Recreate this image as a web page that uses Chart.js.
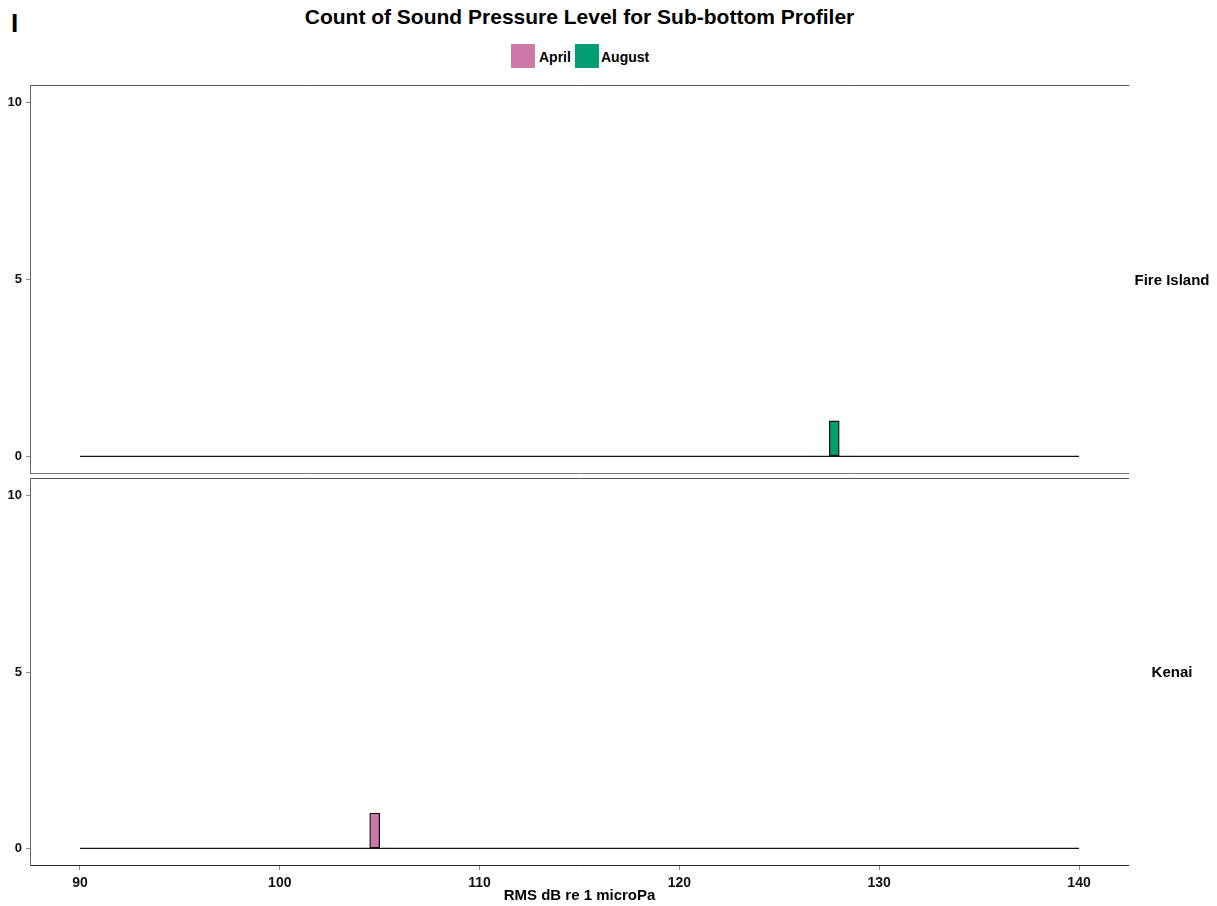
<!DOCTYPE html>
<html>
<head>
<meta charset="utf-8">
<title>Count of Sound Pressure Level for Sub-bottom Profiler</title>
<script src="https://cdn.jsdelivr.net/npm/chart.js@4/dist/chart.umd.min.js"></script>
<style>
    body {
        margin: 0;
        width: 1217px;
        height: 906px;
        background: #ffffff;
        position: relative;
        overflow: hidden;
        font-family: "Liberation Sans", Arial, sans-serif;
        font-weight: bold;
        color: #000;
    }
    .tag {
        position: absolute;
        left: 11px;
        top: 10px;
        font-size: 26px;
        line-height: 26px;
    }
    .title {
        position: absolute;
        left: 30px;
        width: 1099px;
        top: 6px;
        font-size: 21px;
        line-height: 21px;
        text-align: center;
    }
    .legend-box {
        position: absolute;
        top: 44px;
        width: 24px;
        height: 24px;
    }
    .legend-text {
        position: absolute;
        top: 49px;
        font-size: 14px;
        line-height: 16px;
    }
    canvas {
        position: absolute;
        left: 0;
    }
    #topPanel { top: 75px; }
    #bottomPanel { top: 476px; }
</style>
</head>
<body>
<div class="tag">I</div>
<div class="title">Count of Sound Pressure Level for Sub-bottom Profiler</div>
<div id="legend"></div>
<canvas id="topPanel" width="1217" height="401"></canvas>
<canvas id="bottomPanel" width="1217" height="430"></canvas>

<script>
// Data
const panelNames = ['Fire Island', 'Kenai'];
const monthNames = ['April', 'August'];
const monthColors = ['#CC79A7', '#009E73'];

const binWidth = 0.5;
const rangeStart = 90;
const rangeEnd = 140;

// one bin per panel had a count, everything else is zero
const fireIslandBins = [127.5];
const fireIslandCounts = [1];
const fireIslandMonth = 'August';

const kenaiBins = [104.5];
const kenaiCounts = [1];
const kenaiMonth = 'April';

const xTickValues = [90, 100, 110, 120, 130, 140];
const yTickValues = [0, 5, 10];
const xMin = 87.5;
const xMax = 142.5;
const yMin = -0.5;
const yMax = 10.5;

const xTitle = 'RMS dB re 1 microPa';

// Legend (html)
function buildLegend() {
    const legend = document.getElementById('legend');
    const boxLeft = [511, 575];
    const textLeft = [539, 601];
    monthNames.forEach((name, i) => {
        const box = document.createElement('div');
        box.className = 'legend-box';
        box.style.left = boxLeft[i] + 'px';
        box.style.background = monthColors[i];
        legend.appendChild(box);

        const text = document.createElement('div');
        text.className = 'legend-text';
        text.style.left = textLeft[i] + 'px';
        text.textContent = name;
        legend.appendChild(text);
    });
}

// Panel frame + facet strip label
const panelFrame = {
    id: 'panelFrame',
    afterDraw(chart, args, opts) {
        const a = chart.chartArea;
        const ctx = chart.ctx;
        ctx.save();
        ctx.lineWidth = 1;

        ctx.strokeStyle = '#555555';
        ctx.beginPath();
        ctx.moveTo(a.left, Math.round(a.top) + 0.5);
        ctx.lineTo(a.right, Math.round(a.top) + 0.5);
        ctx.stroke();

        ctx.strokeStyle = opts.bottomColor;
        ctx.beginPath();
        ctx.moveTo(a.left, Math.round(a.bottom) - 0.5);
        ctx.lineTo(a.right, Math.round(a.bottom) - 0.5);
        ctx.stroke();

        ctx.strokeStyle = '#666666';
        ctx.beginPath();
        ctx.moveTo(Math.round(a.left) + 0.5, a.top);
        ctx.lineTo(Math.round(a.left) + 0.5, a.bottom);
        ctx.stroke();

        ctx.fillStyle = '#000000';
        ctx.font = 'bold 15px "Liberation Sans", Arial, sans-serif';
        ctx.textAlign = 'center';
        ctx.textBaseline = 'middle';
        ctx.fillText(opts.label, a.right + 43, (a.top + a.bottom) / 2 + 1);
        ctx.restore();
    }
};

function makePanel(canvasId, label, bins, counts, month, showX) {
    const colour = monthColors[monthNames.indexOf(month)];
    const bars = bins.map((b, i) => ({ x: b + binWidth / 2, y: counts[i] }));

    return new Chart(document.getElementById(canvasId), {
        data: {
            datasets: [
                {
                    type: 'line',
                    label: 'zero',
                    data: [{ x: rangeStart, y: 0 }, { x: rangeEnd, y: 0 }],
                    borderColor: '#111111',
                    borderWidth: 1.2,
                    pointRadius: 0
                },
                {
                    type: 'bar',
                    label: month,
                    data: bars,
                    backgroundColor: colour,
                    borderColor: '#111111',
                    borderWidth: 1.3,
                    borderSkipped: false,
                    barThickness: 10
                }
            ]
        },
        options: {
            responsive: false,
            animation: false,
            events: [],
            layout: {
                padding: showX
                    ? { top: 2, right: 88, bottom: 0, left: 0 }
                    : { top: 10, right: 88, bottom: 2, left: 0 }
            },
            plugins: {
                legend: { display: false },
                tooltip: { enabled: false },
                panelFrame: { label: label, bottomColor: showX ? '#222222' : '#777777' }
            },
            scales: {
                x: {
                    type: 'linear',
                    display: showX,
                    offset: false,
                    min: xMin,
                    max: xMax,
                    afterBuildTicks: s => { s.ticks = xTickValues.map(v => ({ value: v })); },
                    afterFit: s => {
                        if (showX) s.height = 40;
                        s.paddingLeft = 0;
                        s.paddingRight = 0;
                    },
                    border: { display: false },
                    grid: {
                        offset: false,
                        drawOnChartArea: false,
                        color: '#888888',
                        tickLength: 4
                    },
                    ticks: {
                        color: '#111111',
                        padding: 5,
                        maxRotation: 0,
                        font: { family: '"Liberation Sans", Arial, sans-serif', size: 14, weight: 'bold' }
                    },
                    title: {
                        display: true,
                        text: xTitle,
                        color: '#000000',
                        padding: { top: 0, bottom: 1 },
                        font: { family: '"Liberation Sans", Arial, sans-serif', size: 15, weight: 'bold' }
                    }
                },
                y: {
                    type: 'linear',
                    min: yMin,
                    max: yMax,
                    afterBuildTicks: s => { s.ticks = yTickValues.map(v => ({ value: v })); },
                    afterFit: s => { s.width = 30; s.paddingTop = 0; s.paddingBottom = 0; },
                    border: { display: false },
                    grid: {
                        drawOnChartArea: false,
                        color: '#888888',
                        tickLength: 4
                    },
                    ticks: {
                        color: '#111111',
                        padding: 4,
                        font: { family: '"Liberation Sans", Arial, sans-serif', size: 13, weight: 'bold' }
                    }
                }
            }
        },
        plugins: [panelFrame]
    });
}

// bar width = one bin, measured through the x scale
function fitBarWidth(chart) {
    const x = chart.scales.x;
    const w = Math.abs(x.getPixelForValue(rangeStart + binWidth) - x.getPixelForValue(rangeStart));
    chart.data.datasets.forEach(ds => {
        if (ds.type === 'bar') ds.barThickness = w;
    });
    chart.update('none');
}

buildLegend();
const topChart = makePanel('topPanel', panelNames[0], fireIslandBins, fireIslandCounts, fireIslandMonth, false);
const bottomChart = makePanel('bottomPanel', panelNames[1], kenaiBins, kenaiCounts, kenaiMonth, true);
fitBarWidth(topChart);
fitBarWidth(bottomChart);
</script>
</body>
</html>
